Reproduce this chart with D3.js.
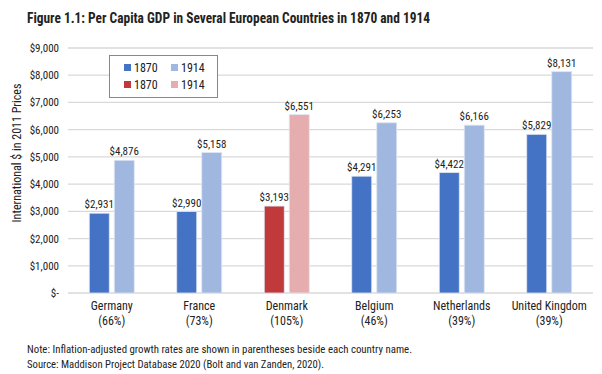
<!DOCTYPE html>
<html>
<head>
<meta charset="utf-8">
<script src="https://d3js.org/d3.v7.min.js"></script>
<style>
  body { margin: 0; background: #fff; }
  text { font-family: "Roboto Condensed", "Liberation Sans Narrow", "DejaVu Sans Condensed", "Roboto", sans-serif; fill: #222; }
</style>
</head>
<body>
<script>
// data
var countries = ["Germany", "France", "Denmark", "Belgium", "Netherlands", "United Kingdom"];
var growth = ["(66%)", "(73%)", "(105%)", "(46%)", "(39%)", "(39%)"];
var gdp1870 = [2931, 2990, 3193, 4291, 4422, 5829];
var gdp1914 = [4876, 5158, 6551, 6253, 6166, 8131];
var yTicks = [0, 1000, 2000, 3000, 4000, 5000, 6000, 7000, 8000, 9000];

var blue = ["#4472C4", "#A0B8E0"], red = ["#C0393B", "#E5ADAD"];

var W = 602, H = 374;
var m = {left: 68, right: 9, top: 48, bottom: 81};

var svg = d3.select("body").append("svg").attr("width", W).attr("height", H);

var x = d3.scaleBand().domain(countries).range([m.left, W - m.right]);
var y = d3.scaleLinear().domain([0, 9000]).range([H - m.bottom, m.top]);

// title
svg.append("text")
    .attr("x", 27).attr("y", 23)
    .attr("textLength", 403).attr("lengthAdjust", "spacingAndGlyphs")
    .style("font-size", "14px").style("font-weight", "700")
    .text("Figure 1.1: Per Capita GDP in Several European Countries in 1870 and 1914");

// gridlines
svg.append("g").selectAll("line").data(yTicks).join("line")
    .attr("x1", m.left).attr("x2", W - m.right)
    .attr("y1", d => y(d)).attr("y2", d => y(d))
    .style("stroke", "#d9d9d9").style("stroke-width", 1.3);

// y labels
svg.append("g").selectAll("text").data(yTicks).join("text")
    .attr("x", 59).attr("y", d => y(d) + 4)
    .attr("text-anchor", "end").style("font-size", "11px")
    .text(d => d === 0 ? "$-" : "$" + d3.format(",")(d));

svg.append("text")
    .attr("transform", "translate(21,153) rotate(-90)")
    .attr("text-anchor", "middle").style("font-size", "12px")
    .text("International $ in 2011 Prices");

// bars
var bw = 20, gap = 5;
var rows = countries.map((c, i) => ({c: c, i: i}));
var grp = svg.append("g").selectAll("g").data(rows).join("g");

[gdp1870, gdp1914].forEach(function(vals, k) {
    var bx = d => x(d.c) + x.bandwidth() / 2 + (k === 0 ? -gap / 2 - bw : gap / 2);
    grp.append("rect")
        .attr("x", bx)
        .attr("y", d => y(vals[d.i]))
        .attr("width", bw)
        .attr("height", d => y(0) - y(vals[d.i]))
        .style("fill", d => (d.c === "Denmark" ? red : blue)[k])
        .style("stroke", "#dfe6f3").style("stroke-width", 0.8);
    grp.append("text")
        .attr("x", d => bx(d) + bw / 2)
        .attr("y", d => y(vals[d.i]) - 5)
        .attr("text-anchor", "middle").style("font-size", "11px")
        .text(d => "$" + d3.format(",")(vals[d.i]));
});

// category labels
grp.append("text")
    .attr("x", d => x(d.c) + x.bandwidth() / 2).attr("y", 310)
    .attr("text-anchor", "middle").style("font-size", "12px")
    .text(d => d.c);
grp.append("text")
    .attr("x", d => x(d.c) + x.bandwidth() / 2).attr("y", 325)
    .attr("text-anchor", "middle").style("font-size", "12px")
    .text(d => growth[d.i]);

// legend
var leg = svg.append("g");
leg.append("rect").attr("x", 109.5).attr("y", 55.5).attr("width", 108).attr("height", 42)
    .style("fill", "#fff").style("stroke", "#888").style("stroke-width", 1);
var legItems = [
    {c: blue[0], t: "1870", col: 0, row: 0}, {c: blue[1], t: "1914", col: 1, row: 0},
    {c: red[0], t: "1870", col: 0, row: 1}, {c: red[1], t: "1914", col: 1, row: 1}
];
legItems.forEach(function(d) {
    var lx = 124 + d.col * 47, ly = 68 + d.row * 17;
    leg.append("rect").attr("x", lx).attr("y", ly - 4).attr("width", 7).attr("height", 7).style("fill", d.c);
    leg.append("text").attr("x", lx + 10).attr("y", ly + 4).style("font-size", "12px").text(d.t);
});

// notes
svg.append("text").attr("x", 27).attr("y", 353)
    .attr("textLength", 385).attr("lengthAdjust", "spacingAndGlyphs")
    .style("font-size", "10.5px")
    .text("Note: Inflation-adjusted growth rates are shown in parentheses beside each country name.");
svg.append("text").attr("x", 27).attr("y", 368)
    .attr("textLength", 297).attr("lengthAdjust", "spacingAndGlyphs")
    .style("font-size", "10.5px")
    .text("Source: Maddison Project Database 2020 (Bolt and van Zanden, 2020).");
</script>
</body>
</html>
